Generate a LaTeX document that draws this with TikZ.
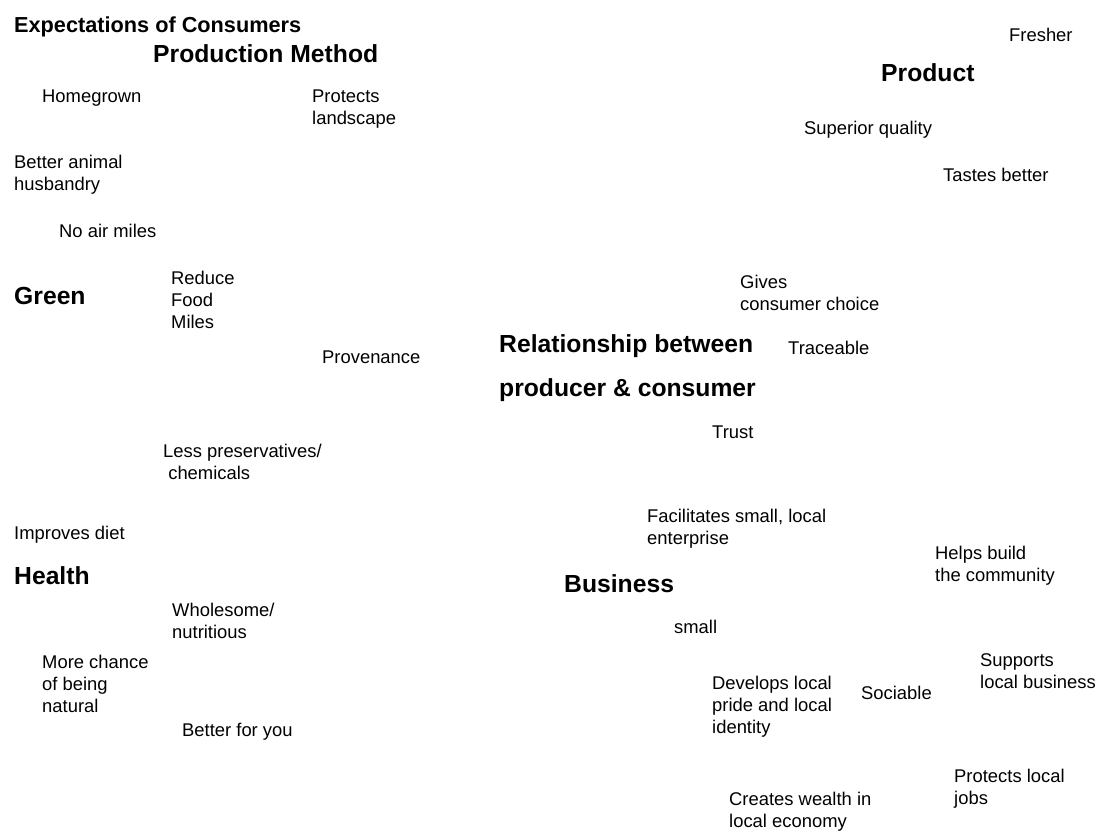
\documentclass[tikz,border=0pt]{standalone}
\usepackage{fontspec}
\setmainfont{Liberation Sans}
\newcommand{\bodyfont}{\fontsize{18.4}{22.3}\selectfont}
\newcommand{\headfont}{\fontsize{24.7}{44}\selectfont\bfseries}
\newcommand{\titlefont}{\fontsize{21.7}{26}\selectfont\bfseries}
\newcommand{\lines}[1]{\begin{tabular}[t]{@{}l@{}}#1\end{tabular}}
\tikzset{
 idea/.style={anchor=base west, inner sep=0, font=\bodyfont},
 theme/.style={anchor=base west, inner sep=0, font=\headfont}
}

\begin{document}
\begin{tikzpicture}[x=1pt,y=-1pt]
\useasboundingbox (0,0) rectangle (1100,830);
\node[theme, font=\titlefont] (title) at (14,32) {Expectations of Consumers};
\node[theme] (method) at (153,62) {Production Method};
\node[theme] (product) at (881,81) {Product};
\node[theme] (green) at (14,304) {Green};
\node[theme] (relation) at (499,352) {\lines{Relationship between\\producer \& consumer}};
\node[theme] (health) at (14,584) {Health};
\node[theme] (business) at (564,592) {Business};

\node[idea] (homegrown) at (42,102) {Homegrown};
\node[idea] (landscape) at (312,102) {\lines{Protects\\landscape}};
\node[idea] (husbandry) at (14,168) {\lines{Better animal\\husbandry}};
\node[idea] (airmiles) at (59,237) {No air miles};
\node[idea] (foodmiles) at (171,284) {\lines{Reduce\\Food\\Miles}};
\node[idea] (provenance) at (322,363) {Provenance};
\node[idea] (chemicals) at (163,457) {\lines{Less preservatives/\\\ chemicals}};
\node[idea] (diet) at (14,539) {Improves diet};
\node[idea] (wholesome) at (172,616) {\lines{Wholesome/\\nutritious}};
\node[idea] (natural) at (42,668) {\lines{More chance\\of being\\natural}};
\node[idea] (betterforyou) at (182,736) {Better for you};

\node[idea] (fresher) at (1009,41) {Fresher};
\node[idea] (quality) at (804,134) {Superior quality};
\node[idea] (tastes) at (943,181) {Tastes better};
\node[idea] (choice) at (740,288) {\lines{Gives\\consumer choice}};
\node[idea] (traceable) at (788,354) {Traceable};
\node[idea] (trust) at (712,438) {Trust};

\node[idea] (enterprise) at (647,522) {\lines{Facilitates small, local\\enterprise}};
\node[idea] (community) at (935,559) {\lines{Helps build\\the community}};
\node[idea] (small) at (674,633) {small};
\node[idea] (supports) at (980,666) {\lines{Supports\\local business}};
\node[idea] (pride) at (712,689) {\lines{Develops local\\pride and local\\identity}};
\node[idea] (sociable) at (861,699) {Sociable};
\node[idea] (jobs) at (954,782) {\lines{Protects local\\jobs}};
\node[idea] (wealth) at (729,805) {\lines{Creates wealth in\\local economy}};
\end{tikzpicture}
\end{document}
